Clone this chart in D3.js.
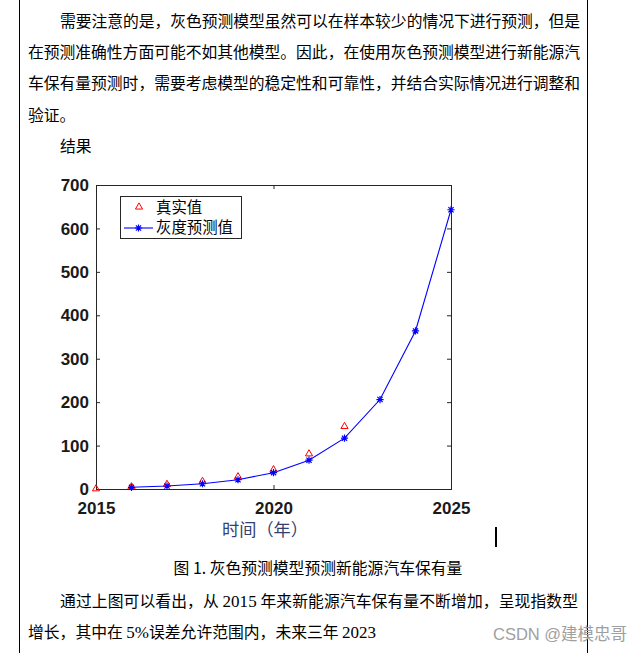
<!DOCTYPE html>
<html>
<head>
<meta charset="utf-8">
<script src="https://cdn.jsdelivr.net/npm/d3@7"></script>
<style>
  body { margin: 0; background: #fff; }
</style>
</head>
<body>
<div id="page"></div>
<script>
const width = 644;
const height = 653;

// Données
const realYears = [2015, 2016, 2017, 2018, 2019, 2020, 2021, 2022];
const realValues = [0.5, 5.3, 10.8, 17.7, 28.3, 44.5, 81, 144];
const predYears = [2016, 2017, 2018, 2019, 2020, 2021, 2022, 2023, 2024, 2025];
const predValues = [3.9, 6.9, 12.1, 21.3, 37.6, 66.4, 117, 206, 364, 643];
const xTicks = [2015, 2020, 2025];
const yTicks = [0, 100, 200, 300, 400, 500, 600, 700];
const legendLabels = ["真实值", "灰度预测值"];
const xLabel = "时间（年）";

const cjk = "'Noto Sans CJK SC', 'Noto Sans', sans-serif";
const serif = "'Liberation Serif', 'DejaVu Serif', serif";

const svg = d3.select("#page")
    .append("svg")
    .attr("width", width)
    .attr("height", height)
    .style("display", "block");

// Bordures de la page
svg.append("line").attr("x1", 19.5).attr("x2", 19.5).attr("y1", 0).attr("y2", height)
    .attr("stroke", "#000").attr("stroke-width", 1);
svg.append("line").attr("x1", 587.5).attr("x2", 587.5).attr("y1", 0).attr("y2", height)
    .attr("stroke", "#000").attr("stroke-width", 1);

// Texte du document
const paragraphs = [
    { y: 21, x: 60, w: 520, parts: [["需要注意的是，灰色预测模型虽然可以在样本较少的情况下进行预测，但是", cjk]] },
    { y: 52, x: 28, w: 552, parts: [["在预测准确性方面可能不如其他模型。因此，在使用灰色预测模型进行新能源汽", cjk]] },
    { y: 83, x: 28, w: 552, parts: [["车保有量预测时，需要考虑模型的稳定性和可靠性，并结合实际情况进行调整和", cjk]] },
    { y: 115, x: 28, parts: [["验证。", cjk]] },
    { y: 146, x: 60, parts: [["结果", cjk]] },
    { y: 601, x: 60, w: 518, parts: [["通过上图可以看出，从 ", cjk], ["2015", serif], [" 年来新能源汽车保有量不断增加，呈现指数型", cjk]] },
    { y: 632, x: 28, parts: [["增长，其中在 ", cjk], ["5%", serif], ["误差允许范围内，未来三年 ", cjk], ["2023", serif]] }
];

paragraphs.forEach(p => {
    const t = svg.append("text")
        .attr("x", p.x)
        .attr("y", p.y)
        .attr("dy", "0.36em")
        .style("font-size", "15.8px")
        .style("fill", "#000");
    if (p.w) {
        t.attr("textLength", p.w).attr("lengthAdjust", "spacing");
    }
    p.parts.forEach(part => {
        t.append("tspan")
            .style("font-family", part[1])
            .style("font-size", part[1] === serif ? "17px" : "15.8px")
            .text(part[0]);
    });
});

// Légende de la figure
svg.append("text")
    .attr("x", 318)
    .attr("y", 568)
    .attr("dy", "0.36em")
    .attr("text-anchor", "middle")
    .style("font-family", cjk)
    .style("font-size", "15.8px")
    .text("图 1. 灰色预测模型预测新能源汽车保有量");

// Curseur
svg.append("line").attr("x1", 496).attr("x2", 496).attr("y1", 527).attr("y2", 547)
    .attr("stroke", "#000").attr("stroke-width", 2);

// Filigrane
svg.append("text")
    .attr("x", 493)
    .attr("y", 634)
    .attr("dy", "0.36em")
    .style("font-family", "'Liberation Sans', 'Noto Sans CJK SC', sans-serif")
    .style("font-size", "16.5px")
    .style("fill", "#a0a0a0")
    .text("CSDN @建模忠哥");

// Graphique
const plot = { left: 96, right: 451, top: 185, bottom: 489 };

const x = d3.scaleLinear().domain([2015, 2025]).range([plot.left, plot.right]);
const y = d3.scaleLinear().domain([0, 700]).range([plot.bottom, plot.top]);

const axisColor = "#262626";
const tickFont = "'Liberation Sans', Arial, sans-serif";

function styleAxis(g) {
    g.select(".domain").remove();
    g.selectAll(".tick line").attr("stroke", axisColor);
    g.selectAll(".tick text")
        .style("font-family", tickFont)
        .style("font-size", "17px")
        .style("font-weight", "bold")
        .style("fill", "#1a1a1a");
}

svg.append("g")
    .attr("transform", `translate(${plot.left},0)`)
    .call(d3.axisLeft(y).tickValues(yTicks).tickSize(-4).tickSizeOuter(0).tickPadding(7))
    .call(styleAxis)
    .call(g => g.selectAll(".tick text").attr("dy", "0.33em"));

svg.append("g")
    .attr("transform", `translate(${plot.right},0)`)
    .call(d3.axisRight(y).tickValues(yTicks).tickSize(-4).tickSizeOuter(0).tickFormat(""))
    .call(styleAxis);

svg.append("g")
    .attr("transform", `translate(0,${plot.bottom})`)
    .call(d3.axisBottom(x).tickValues(xTicks).tickSize(-4).tickSizeOuter(0).tickPadding(13).tickFormat(d3.format("d")))
    .call(styleAxis);

svg.append("g")
    .attr("transform", `translate(0,${plot.top})`)
    .call(d3.axisTop(x).tickValues(xTicks).tickSize(-4).tickSizeOuter(0).tickFormat(""))
    .call(styleAxis);

// Cadre
svg.append("rect")
    .attr("x", plot.left + 0.5)
    .attr("y", plot.top + 0.5)
    .attr("width", plot.right - plot.left)
    .attr("height", plot.bottom - plot.top)
    .attr("fill", "none")
    .attr("stroke", axisColor)
    .attr("stroke-width", 1);

// Symboles
const triangle = d3.symbol().type(d3.symbolTriangle).size(22);
const starPath = r => `M${-r},0L${r},0M0,${-r}L0,${r}M${-r * 0.72},${-r * 0.72}L${r * 0.72},${r * 0.72}M${-r * 0.72},${r * 0.72}L${r * 0.72},${-r * 0.72}`;

const line = d3.line()
    .x(d => x(d[0]))
    .y(d => y(d[1]));

const predData = predYears.map((yr, i) => [yr, predValues[i]]);
const realData = realYears.map((yr, i) => [yr, realValues[i]]);

svg.append("path")
    .datum(predData)
    .attr("d", line)
    .attr("fill", "none")
    .attr("stroke", "#0000ff")
    .attr("stroke-width", 1.1);

svg.selectAll(".real")
    .data(realData)
    .enter()
    .append("path")
    .attr("class", "real")
    .attr("d", triangle)
    .attr("transform", d => `translate(${x(d[0])},${y(d[1])})`)
    .attr("fill", "none")
    .attr("stroke", "#ff0000")
    .attr("stroke-width", 1);

svg.selectAll(".pred")
    .data(predData)
    .enter()
    .append("path")
    .attr("class", "pred")
    .attr("d", starPath(3.6))
    .attr("transform", d => `translate(${x(d[0])},${y(d[1])})`)
    .attr("fill", "none")
    .attr("stroke", "#0000ff")
    .attr("stroke-width", 1.2);

// Légende
const legend = svg.append("g");
legend.append("rect")
    .attr("x", 120.5)
    .attr("y", 196.5)
    .attr("width", 121)
    .attr("height", 42)
    .attr("fill", "#fff")
    .attr("stroke", axisColor)
    .attr("stroke-width", 1);

legend.append("path")
    .attr("d", triangle)
    .attr("transform", "translate(139,207)")
    .attr("fill", "none")
    .attr("stroke", "#ff0000");

legend.append("line")
    .attr("x1", 124).attr("x2", 153)
    .attr("y1", 228).attr("y2", 228)
    .attr("stroke", "#0000ff")
    .attr("stroke-width", 1.1);

legend.append("path")
    .attr("d", starPath(3.6))
    .attr("transform", "translate(138.5,228)")
    .attr("fill", "none")
    .attr("stroke", "#0000ff")
    .attr("stroke-width", 1.2);

legend.selectAll(".lbl")
    .data(legendLabels)
    .enter()
    .append("text")
    .attr("class", "lbl")
    .attr("x", 156)
    .attr("y", (d, i) => i === 0 ? 207.5 : 227.5)
    .attr("dy", "0.36em")
    .style("font-family", cjk)
    .style("font-size", "15.4px")
    .style("fill", "#000")
    .text(d => d);

// Titre de l'axe X
svg.append("text")
    .attr("x", 265)
    .attr("y", 530)
    .attr("dy", "0.36em")
    .attr("text-anchor", "middle")
    .style("font-family", cjk)
    .style("font-size", "17.2px")
    .style("fill", "#33406e")
    .text(xLabel);
</script>
</body>
</html>
